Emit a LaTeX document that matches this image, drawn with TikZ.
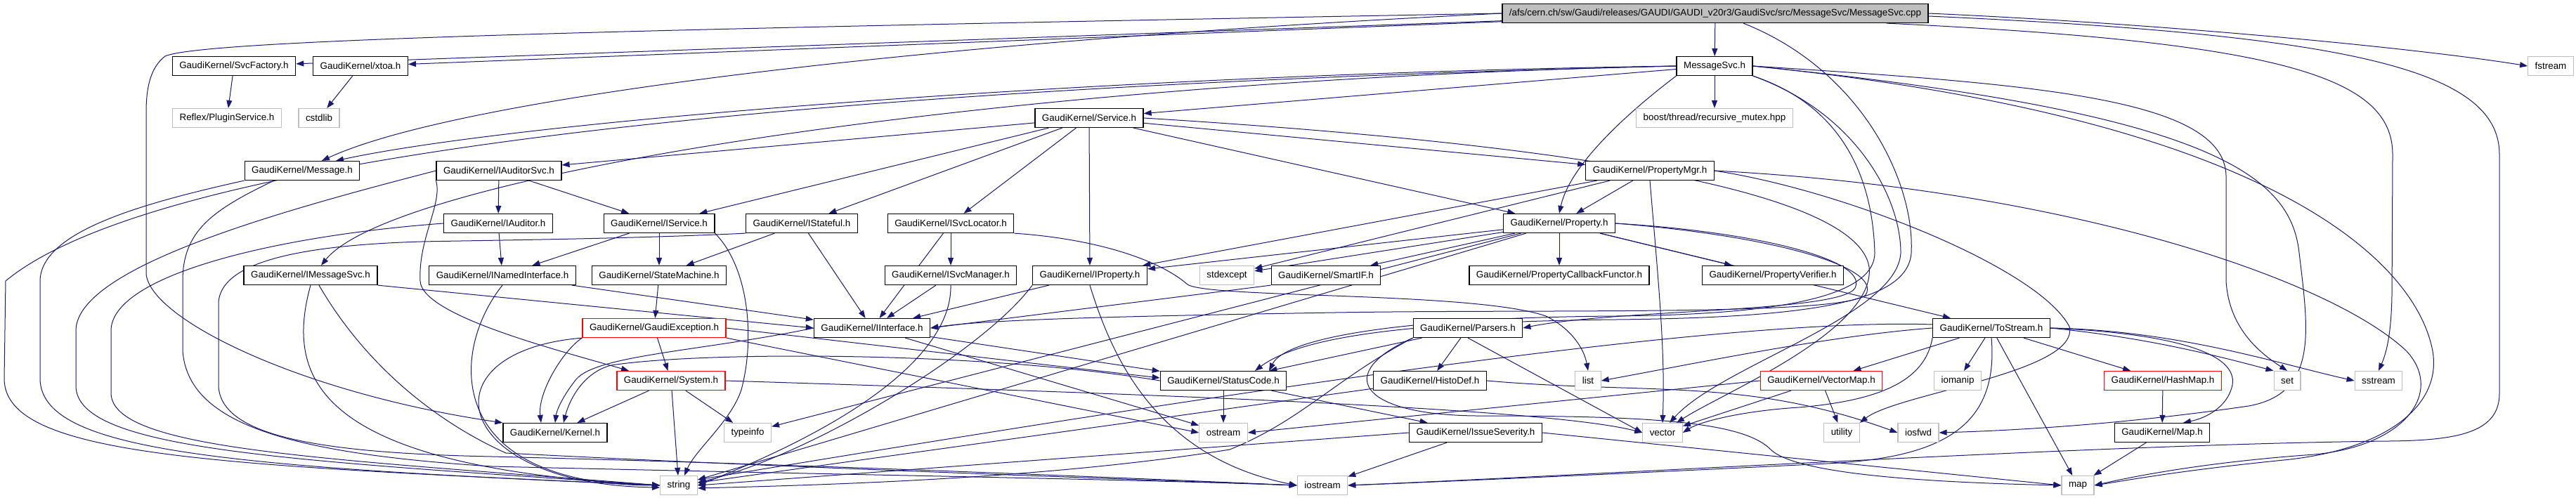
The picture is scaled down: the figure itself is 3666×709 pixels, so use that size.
\documentclass[tikz,border=0pt]{standalone}
\usepackage{fontspec}
\setmainfont{Liberation Sans}
\usetikzlibrary{arrows.meta}
\definecolor{navy}{HTML}{191970}
\definecolor{lgray}{HTML}{BFBFBF}
\pgfdeclarelayer{edgelayer}
\pgfsetlayers{edgelayer,main}
\tikzset{
 lnk/.style={draw=navy, line width=1pt, -{Triangle[length=11pt,width=8pt]}},
 nbox/.style={draw=black, fill=white, line width=1.2pt, minimum height=27pt, inner xsep=10pt, inner ysep=0pt, font=\fontsize{13.4}{16}\selectfont},
 gbox/.style={nbox, draw=lgray},
 rbox/.style={nbox, draw=red},
 rootbox/.style={nbox, fill=lgray},
}
\begin{document}
\begin{tikzpicture}[x=1pt,y=-1pt]
\useasboundingbox (0,0) rectangle (3666,709);
% row 1-2
\node[rootbox] (root) at (2441,19) {/afs/cern.ch/sw/Gaudi/releases/GAUDI/GAUDI\_v20r3/GaudiSvc/src/MessageSvc/MessageSvc.cpp};
\node[nbox] (SF) at (333,94) {GaudiKernel/SvcFactory.h};
\node[nbox] (XT) at (513,94) {GaudiKernel/xtoa.h};
\node[nbox] (MSH) at (2440,94) {MessageSvc.h};
\node[gbox] (FS) at (3630,94) {fstream};
% row 3
\node[gbox] (PS) at (323,168) {Reflex/PluginService.h};
\node[gbox] (CS) at (454,168) {cstdlib};
\node[nbox] (SVC) at (1550,168) {GaudiKernel/Service.h};
\node[gbox] (BST) at (2440,168) {boost/thread/recursive\_mutex.hpp};
% row 4
\node[nbox] (MSG) at (430,243) {GaudiKernel/Message.h};
\node[nbox] (IAS) at (710,243) {GaudiKernel/IAuditorSvc.h};
\node[nbox] (PM) at (2348,243) {GaudiKernel/PropertyMgr.h};
% row 5
\node[nbox] (IAU) at (709,318) {GaudiKernel/IAuditor.h};
\node[nbox] (IS) at (938,318) {GaudiKernel/IService.h};
\node[nbox] (IST) at (1141,318) {GaudiKernel/IStateful.h};
\node[nbox] (ISL) at (1353,318) {GaudiKernel/ISvcLocator.h};
\node[nbox] (PR) at (2219,318) {GaudiKernel/Property.h};
% row 6
\node[nbox] (IMS) at (442,392) {GaudiKernel/IMessageSvc.h};
\node[nbox] (INI) at (715,392) {GaudiKernel/INamedInterface.h};
\node[nbox] (SM) at (938,392) {GaudiKernel/StateMachine.h};
\node[nbox] (ISM) at (1353,392) {GaudiKernel/ISvcManager.h};
\node[nbox] (IP) at (1551,392) {GaudiKernel/IProperty.h};
\node[gbox] (SE) at (1746,392) {stdexcept};
\node[nbox] (SIF) at (1887,392) {GaudiKernel/SmartIF.h};
\node[nbox] (PCF) at (2219,392) {GaudiKernel/PropertyCallbackFunctor.h};
\node[nbox] (PV) at (2523,392) {GaudiKernel/PropertyVerifier.h};
% row 7
\node[rbox] (GE) at (931,467) {GaudiKernel/GaudiException.h};
\node[nbox] (II) at (1241,467) {GaudiKernel/IInterface.h};
\node[nbox] (PA) at (2089,467) {GaudiKernel/Parsers.h};
\node[nbox] (TS) at (2834,467) {GaudiKernel/ToStream.h};
% row 8
\node[rbox] (SYS) at (955,542) {GaudiKernel/System.h};
\node[nbox] (SC) at (1741,542) {GaudiKernel/StatusCode.h};
\node[nbox] (HD) at (2035,542) {GaudiKernel/HistoDef.h};
\node[gbox] (LI) at (2260,542) {list};
\node[rbox] (VM) at (2592,542) {GaudiKernel/VectorMap.h};
\node[gbox] (IOM) at (2786,542) {iomanip};
\node[rbox] (HM) at (3078,542) {GaudiKernel/HashMap.h};
\node[gbox] (SET) at (3255,542) {set};
\node[gbox] (SS) at (3385,542) {sstream};
% row 9
\node[nbox] (KER) at (790,616) {GaudiKernel/Kernel.h};
\node[gbox] (TI) at (1064,616) {typeinfo};
\node[gbox] (OS) at (1741,616) {ostream};
\node[nbox] (ISV) at (2100,616) {GaudiKernel/IssueSeverity.h};
\node[gbox] (VEC) at (2366,616) {vector};
\node[gbox] (UT) at (2621,616) {utility};
\node[gbox] (IOF) at (2730,616) {iosfwd};
\node[nbox] (MAP) at (3077,616) {GaudiKernel/Map.h};
% row 10
\node[gbox] (STR) at (966,691) {string};
\node[gbox] (IOS) at (1882,691) {iostream};
\node[gbox] (MP) at (2957,691) {map};

\begin{pgfonlayer}{edgelayer}
\fill[white] (0,0) rectangle (3666,709);
% root
\draw[lnk] (root) -- (SF);
\draw[lnk] (root) -- (XT);
\draw[lnk] (root) -- (MSH);
\draw[lnk] (root.east) .. controls (3100,35) and (3450,70) .. (FS.west);
\draw[lnk] ([yshift=-4pt]root.east) .. controls (3350,50) and (3557,100) .. (3557,220) -- (3557,560) .. controls (3557,615) and (3500,627) .. (3400,628) .. controls (3000,632) and (2300,675) .. (IOS.east);
\draw[lnk] ([xshift=-60pt]root.south east) .. controls (3250,60) and (3405,110) .. (3405,220) -- (3404,420) .. controls (3403,480) and (3395,505) .. (SS.north);
\draw[lnk] (root.west) .. controls (1000,40) and (290,55) .. (235,80) .. controls (214,96) and (208,125) .. (208,160) -- (208,390) .. controls (214,455) and (430,560) .. (KER.north west);
\draw[lnk] (root.west) .. controls (1300,60) and (650,140) .. ([xshift=28pt]MSG.north);
\draw[lnk] ([xshift=40pt]root.south) .. controls (2650,100) and (2725,260) .. (2720,360) .. controls (2715,430) and (2580,452) .. (2300,455) .. controls (2000,458) and (1850,480) .. ([xshift=45pt]SC.north);
% SF, XT
\draw[lnk] (SF) -- (PS);
\draw[lnk] (XT) -- (CS);
% MessageSvc.h
\draw[lnk] (MSH) -- (BST);
\draw[lnk] (MSH) -- (SVC);
\draw[lnk] (MSH.west) .. controls (1400,115) and (560,250) .. ([xshift=15pt]IMS.north);
\draw[lnk] (MSH.west) .. controls (1600,105) and (750,170) .. ([xshift=48pt]MSG.north);
\draw[lnk] (MSH.south west) .. controls (2330,150) and (2235,230) .. (PR.north);
\draw[lnk] (MSH.west) .. controls (1300,120) and (250,200) .. (8,400) -- (6,540) .. controls (8,650) and (300,662) .. (STR.west);
\draw[lnk] (MSH.south east) .. controls (2640,160) and (2705,280) .. (2705,360) .. controls (2700,450) and (2450,520) .. ([xshift=10pt]VEC.north);
\draw[lnk] (MSH.south east) .. controls (2620,150) and (2665,250) .. (2668,360) .. controls (2668,425) and (2520,448) .. (2300,450) .. controls (2000,452) and (1830,480) .. ([xshift=65pt]SC.north);
\draw[lnk] (MSH.east) .. controls (2900,120) and (3165,140) .. (3168,250) -- (3168,400) .. controls (3172,470) and (3220,505) .. (SET.north);
\draw[lnk] (MSH.east) .. controls (3150,160) and (3260,250) .. (3272,360) .. controls (3285,470) and (3300,560) .. (3200,578) .. controls (3050,600) and (2900,612) .. (IOF.east);
\draw[lnk] (MSH.east) .. controls (3250,170) and (3440,380) .. (3462,500) .. controls (3475,575) and (3400,640) .. (3250,655) .. controls (3100,670) and (3020,685) .. (MP.east);
% Service.h
\draw[lnk] (SVC) -- (IAS);
\draw[lnk] (SVC) -- (IS);
\draw[lnk] (SVC) -- (IST);
\draw[lnk] (SVC) -- (ISL);
\draw[lnk] (SVC) -- (IP);
\draw[lnk] (SVC) -- (PM);
\draw[lnk] (SVC) -- (PR);
\draw[lnk] (SVC.east) .. controls (2150,200) and (2640,260) .. (2660,380) .. controls (2670,470) and (2450,560) .. ([xshift=20pt]VEC.north);
% Message.h
\draw[lnk] (MSG.south west) .. controls (200,290) and (58,330) .. (57,400) -- (57,540) .. controls (60,640) and (300,664) .. (STR.west);
\draw[lnk] ([xshift=-40pt]MSG.south) .. controls (300,300) and (260,330) .. (260,400) -- (260,500) .. controls (268,600) and (400,645) .. (700,664) .. controls (1200,676) and (1600,682) .. (IOS.west);
% IAuditorSvc.h
\draw[lnk] (IAS) -- (IAU);
\draw[lnk] (IAS) -- (IS);
\draw[lnk] (IAS.west) .. controls (400,300) and (110,380) .. (108,470) -- (108,550) .. controls (110,640) and (400,655) .. (STR.west);
\draw[lnk] (IAS.south west) .. controls (630,290) and (595,340) .. (598,400) .. controls (600,450) and (800,500) .. ([xshift=-60pt]SYS.north);
% PropertyMgr.h
\draw[lnk] (PM) -- (PR);
\draw[lnk] (PM) -- (IP);
\draw[lnk] (PM) -- (SE);
\draw[lnk] (PM.south) .. controls (2360,400) and (2370,500) .. (VEC.north);
\draw[lnk] (PM.east) .. controls (2620,270) and (2900,380) .. (2945,465) .. controls (2960,530) and (2700,560) .. (UT.north east);
\draw[lnk] (PM.east) .. controls (2950,270) and (3320,400) .. (3425,500) .. controls (3480,560) and (3420,640) .. (3280,648) .. controls (3120,660) and (3020,682) .. (MP.east);
% IAuditor.h
\draw[lnk] (IAU) -- (INI);
\draw[lnk] (IAU.west) .. controls (400,335) and (160,390) .. (158,470) -- (158,560) .. controls (160,640) and (450,652) .. (STR.west);
% IService.h
\draw[lnk] (IS) -- (INI);
\draw[lnk] (IS) -- (SM);
\draw[lnk] (IS.south east) .. controls (1065,380) and (1075,480) .. (1055,555) .. controls (1040,600) and (990,640) .. ([xshift=8pt]STR.north);
% IStateful.h
\draw[lnk] (IST) -- (SM);
\draw[lnk] (IST) -- (II);
\draw[lnk] (IST.south west) .. controls (900,340) and (700,342) .. (600,344) .. controls (400,350) and (315,380) .. (311,430) -- (311,550) .. controls (315,620) and (450,645) .. (700,650) .. controls (1100,660) and (1500,676) .. (IOS.west);
% ISvcLocator.h
\draw[lnk] (ISL) -- (II);
\draw[lnk] (ISL) -- (ISM);
\draw[lnk] (ISL.south east) .. controls (1560,340) and (1650,370) .. (1690,405) .. controls (1720,425) and (2100,415) .. (2200,450) .. controls (2240,470) and (2255,500) .. (LI.north);
% Property.h
\draw[lnk] (PR) -- (SE);
\draw[lnk] (PR) -- (SIF);
\draw[lnk] (PR) -- (PCF);
\draw[lnk] (PR) -- (PV);
\draw[lnk] (PR) -- (TS);
\draw[lnk] (PR) -- (IP);
\draw[lnk] (PR) -- (TI);
\draw[lnk] (PR) -- (STR);
\draw[lnk] (PR.east) .. controls (2500,330) and (2660,370) .. (2640,410) .. controls (2620,445) and (2300,440) .. (PA.east);
\draw[lnk] (PR.east) .. controls (2520,335) and (2680,380) .. (2655,420) .. controls (2620,450) and (2200,440) .. (1900,445) .. controls (1600,450) and (1400,455) .. (II.east);
% IMessageSvc.h
\draw[lnk] (IMS.south east) -- (II.west);
\draw[lnk] (IMS.south) .. controls (405,540) and (450,665) .. (STR.west);
\draw[lnk] ([xshift=12pt]IMS.south) .. controls (520,520) and (620,600) .. (720,645) .. controls (1100,665) and (1600,682) .. (IOS.west);
% INamedInterface.h
\draw[lnk] (INI) -- (II);
\draw[lnk] (INI.south) .. controls (640,500) and (630,690) .. (STR.west);
% StateMachine.h
\draw[lnk] (SM) -- (GE);
% ISvcManager.h
\draw[lnk] (ISM) -- (II);
\draw[lnk] (ISM.south) .. controls (1355,490) and (1250,590) .. (STR.east);
% IProperty.h
\draw[lnk] (IP) -- (II);
\draw[lnk] (IP.south west) .. controls (1400,500) and (1150,650) .. ([yshift=4pt]STR.east);
\draw[lnk] (IP.south) .. controls (1580,500) and (1640,650) .. (IOS.west);
% SmartIF.h
\draw[lnk] (SIF.south west) -- (II.east);
% GaudiException.h
\draw[lnk] (GE) -- (SYS);
\draw[lnk] (GE.south west) .. controls (800,500) and (765,560) .. ([xshift=-20pt]KER.north);
\draw[lnk] (GE.east) -- ([yshift=4pt]SC.west);
\draw[lnk] (GE.south west) .. controls (600,500) and (640,690) .. ([yshift=-3pt]STR.west);
\draw[lnk] (GE.south east) -- (OS.west);
% IInterface.h
\draw[lnk] (II.west) .. controls (1000,500) and (850,505) .. (820,540) .. controls (800,565) and (792,585) .. (KER.north);
\draw[lnk] (II) -- (SC);
\draw[lnk] (II) -- (OS);
% Parsers.h
\draw[lnk] (PA) -- (SC);
\draw[lnk] (PA) -- (HD);
\draw[lnk] (PA.south) -- (VEC.west);
\draw[lnk] (PA.south west) .. controls (1900,540) and (1850,600) .. (1750,640) .. controls (1500,680) and (1200,690) .. ([yshift=-4pt]STR.east);
\draw[lnk] (PA.south west) .. controls (1900,530) and (1930,590) .. (2100,592) .. controls (2350,592) and (2480,600) .. (2520,640) .. controls (2560,680) and (2800,688) .. (MP.west);
% ToStream.h
\draw[lnk] (TS) -- (VM);
\draw[lnk] (TS) -- (IOM);
\draw[lnk] (TS) -- (MP);
\draw[lnk] (TS) -- (HM);
\draw[lnk] (TS.east) .. controls (3050,480) and (3150,505) .. (SET.north west);
\draw[lnk] (TS.east) .. controls (3100,470) and (3250,520) .. (SS.west);
\draw[lnk] (TS.east) .. controls (3100,475) and (3190,505) .. (3176,552) .. controls (3168,580) and (3140,595) .. ([xshift=30pt]MAP.north);
\draw[lnk] (TS.south) .. controls (2845,610) and (2760,652) .. (2600,660) .. controls (2300,675) and (2000,688) .. (IOS.east);
\draw[lnk] (TS.south west) .. controls (2740,540) and (2680,570) .. (2560,580) .. controls (2480,585) and (2420,600) .. (VEC.east);
\draw[lnk] (TS.west) .. controls (2600,478) and (2400,520) .. (LI.east);
\draw[lnk] ([yshift=5pt]TS.west) .. controls (2400,450) and (1500,600) .. ([yshift=8pt]STR.east);
% System.h
\draw[lnk] (SYS) -- (KER);
\draw[lnk] (SYS) -- (STR);
\draw[lnk] (SYS) -- (TI);
\draw[lnk] (SYS.east) .. controls (1600,560) and (2200,580) .. (VEC.west);
% StatusCode.h
\draw[lnk] (SC) -- (OS);
\draw[lnk] (SC) -- (ISV);
\draw[lnk] (SC.west) .. controls (1400,500) and (1000,500) .. (870,520) .. controls (830,530) and (810,570) .. ([xshift=12pt]KER.north);
% HistoDef.h
\draw[lnk] (HD) -- (STR);
\draw[lnk] (HD.east) to[out=-5,in=160] (IOF.west);
% VectorMap.h
\draw[lnk] (VM) -- (VEC);
\draw[lnk] (VM) -- (UT);
\draw[lnk] (VM.west) -- (OS.east);
% HashMap.h, Map.h
\draw[lnk] (HM) -- (MAP);
\draw[lnk] (MAP) -- (MP);
% IssueSeverity.h
\draw[lnk] (ISV) -- (IOS);
\draw[lnk] (ISV.west) -- (STR.east);
\draw[lnk] (ISV.east) -- (MP.west);
\end{pgfonlayer}
\end{tikzpicture}
\end{document}
